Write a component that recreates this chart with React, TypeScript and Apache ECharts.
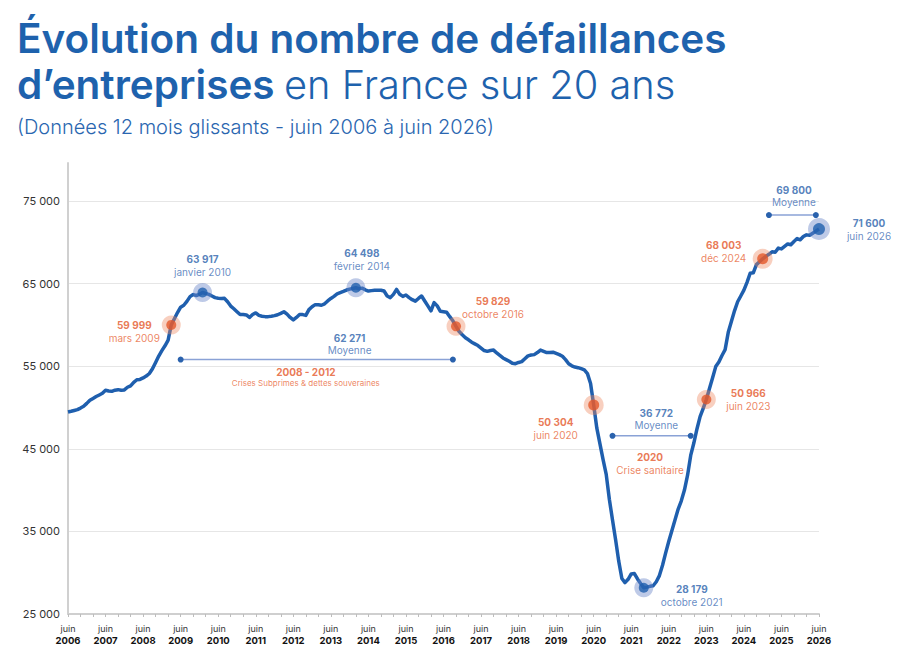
import React, { useEffect, useRef } from "react";
import * as echarts from "echarts";

// Mois (noms complets) utilisés pour construire l'axe mensuel
const MONTHS = [
  "janvier", "février", "mars", "avril", "mai", "juin",
  "juillet", "août", "septembre", "octobre", "novembre", "décembre",
];
const FIRST_YEAR = 2006;
const FIRST_MONTH = 5; // juin
const MONTH_COUNT = 241; // juin 2006 → juin 2026

// Défaillances d'entreprises, cumul sur 12 mois glissants (juin → mai)
const failures2006 = [49450, 49540, 49640, 49740, 49930, 50140, 50500, 50880, 51100, 51330, 51520, 51720];
const failures2007 = [52090, 52000, 51960, 52100, 52160, 52080, 52130, 52450, 52620, 53050, 53360, 53400];
const failures2008 = [53580, 53800, 54120, 54700, 55450, 56230, 56880, 57470, 58150, 59999, 60750, 61500];
const failures2009 = [62150, 62380, 62850, 63420, 63670, 63560, 63700, 63917, 63800, 63700, 63500, 63300];
const failures2010 = [63230, 63200, 63220, 62800, 62280, 61950, 61600, 61250, 61250, 61200, 60900, 61250];
const failures2011 = [61450, 61150, 61050, 61000, 61000, 61050, 61120, 61230, 61400, 61590, 61300, 60900];
const failures2012 = [60600, 60900, 61250, 61250, 61150, 61850, 62200, 62450, 62450, 62380, 62550, 62900];
const failures2013 = [63200, 63450, 63750, 63900, 64050, 64220, 64330, 64400, 64498, 64380, 64450, 64250];
const failures2014 = [64100, 64150, 64200, 64180, 64200, 64100, 63500, 63300, 63700, 64300, 63700, 63450];
const failures2015 = [63620, 63300, 63050, 62870, 63200, 63500, 62900, 62300, 61700, 62700, 62300, 61650];
const failures2016 = [61600, 61540, 61000, 60500, 59829, 59200, 58800, 58450, 58200, 57900, 57700, 57500];
const failures2017 = [57200, 56900, 56800, 56900, 56950, 56600, 56300, 56000, 55800, 55600, 55350, 55300];
const failures2018 = [55450, 55550, 55900, 56250, 56350, 56400, 56650, 56950, 56800, 56650, 56650, 56700];
const failures2019 = [56550, 56400, 56200, 55800, 55300, 55050, 54900, 54820, 54700, 54550, 54100, 52900];
const failures2020 = [50304, 47500, 45600, 43700, 41900, 38900, 36400, 34000, 31400, 29300, 28800, 29200];
const failures2021 = [29850, 29900, 29250, 28700, 28179, 28250, 28350, 28420, 28900, 29650, 30900, 32400];
const failures2022 = [33800, 35100, 36400, 37700, 38700, 40000, 41800, 44200, 45700, 47400, 48900, 49900];
const failures2023 = [50966, 52300, 53600, 54950, 55500, 56300, 57000, 59100, 60400, 61700, 62800, 63500];
const failures2024 = [64200, 65150, 66250, 66300, 67300, 67650, 68003, 68300, 68550, 68850, 68800, 69300];
const failures2025 = [69200, 69500, 69800, 69700, 70100, 70450, 70300, 70700, 70900, 70850, 71100, 71350];
const failures2026 = [71600];

// Points remarquables
const highlightKeys = ["2009-03", "2010-01", "2014-02", "2016-10", "2020-06", "2021-10", "2023-06", "2024-12", "2026-06"];
const highlightNames = ["mars 2009", "janvier 2010", "février 2014", "octobre 2016", "juin 2020", "octobre 2021", "juin 2023", "déc 2024", "juin 2026"];
const highlightTones = ["orange", "blue", "blue", "orange", "orange", "blue", "orange", "orange", "blue"];

// Moyennes par période
const averageValues = [62271, 36772, 69800];
const averageStarts = ["2009-06", "2020-12", "2025-02"];
const averageEnds = ["2016-09", "2023-01", "2026-05"];
const crisisTitles = ["2008 - 2012", "2020"];
const crisisNames = ["Crises Subprimes & dettes souveraines", "Crise sanitaire"];

// Mise en page des annotations (décalages en px, niveaux de tracé des accolades)
const highlightLabelOffsets = [[-37, 7], [0, -27], [6, -28], [37, -19], [-38, 24], [48, 8], [42, 0], [-39, -7], [50, 0]];
const highlightSizes = [[19, 10], [19, 10], [19, 10], [19, 10], [20, 11], [19, 10], [19, 10], [20, 11], [22, 12]];
const bracketLevels = [55800, 46575, 73300];
const averageLabelKeys = ["2013-12", "2022-02", "2025-10"];
const averageLabelDy = [-16, -17, -19];
const crisisLabelKeys = ["2012-10", "2021-12"];
const crisisLabelDy = [18, 28];

const BLUE = "#1f5fae";
const BLUE_TITLE = "#1e62ad";
const BLUE_TEXT = "#2b62ab";
const BLUE_SOFT = "#3f6fb6";
const ORANGE = "#e4582b";
const ORANGE_SOFT = "#e8673a";
const FONT = "Inter, 'Open Sans', sans-serif";

const failures = [
  ...failures2006, ...failures2007, ...failures2008, ...failures2009, ...failures2010,
  ...failures2011, ...failures2012, ...failures2013, ...failures2014, ...failures2015,
  ...failures2016, ...failures2017, ...failures2018, ...failures2019, ...failures2020,
  ...failures2021, ...failures2022, ...failures2023, ...failures2024, ...failures2025,
  ...failures2026,
];

const categories: string[] = [];
for (let i = 0; i < MONTH_COUNT; i++) {
  const t = FIRST_MONTH + i;
  const y = FIRST_YEAR + Math.floor(t / 12);
  const m = (t % 12) + 1;
  categories.push(`${y}-${String(m).padStart(2, "0")}`);
}

const fmt = (v: number) => {
  const k = Math.floor(v / 1000);
  const r = v % 1000;
  return k > 0 ? `${k} ${String(r).padStart(3, "0")}` : String(r);
};

export default function App() {
  const ref = useRef<HTMLDivElement>(null);

  useEffect(() => {
    if (!ref.current) return;
    const chart = echarts.init(ref.current, null, { renderer: "svg" });

    const highlightData = highlightKeys.map((key, i) => {
      const value = failures[categories.indexOf(key)];
      const tone = highlightTones[i];
      return { key, value, tone, name: highlightNames[i], offset: highlightLabelOffsets[i], size: highlightSizes[i] };
    });

    const haloSeries = {
      type: "scatter",
      z: 4,
      silent: true,
      data: highlightData.map((h) => ({
        value: [h.key, h.value],
        symbolSize: h.size[0],
        itemStyle: { color: h.tone === "orange" ? "rgba(238,134,96,0.5)" : "rgba(108,135,200,0.55)" },
      })),
    };

    const dotSeries = {
      type: "scatter",
      z: 5,
      silent: true,
      data: highlightData.map((h) => ({
        value: [h.key, h.value],
        symbolSize: h.size[1],
        itemStyle: { color: h.tone === "orange" ? ORANGE : BLUE },
        label: {
          show: true,
          position: "inside",
          offset: h.offset,
          align: "center",
          verticalAlign: "middle",
          formatter: `{v|${fmt(h.value)}}\n{d|${h.name}}`,
          rich: {
            v: {
              fontFamily: FONT, fontSize: 10, fontWeight: 700, lineHeight: 13,
              color: h.tone === "orange" ? ORANGE : BLUE_TEXT, align: "center",
            },
            d: {
              fontFamily: FONT, fontSize: 10, fontWeight: 400, lineHeight: 13,
              color: h.tone === "orange" ? ORANGE_SOFT : BLUE_SOFT, align: "center",
            },
          },
        },
      })),
    };

    const bracketSeries = averageValues.map((_, i) => ({
      type: "line",
      z: 3,
      silent: true,
      symbol: "circle",
      symbolSize: 6,
      showSymbol: true,
      showAllSymbol: true,
      lineStyle: { color: "#8aa2d6", width: 1.5 },
      itemStyle: { color: "#2a62ad" },
      data: [
        [averageStarts[i], bracketLevels[i]],
        [averageEnds[i], bracketLevels[i]],
      ],
    }));

    const textData: any[] = [];
    averageValues.forEach((v, i) => {
      textData.push({
        value: [averageLabelKeys[i], bracketLevels[i]],
        label: {
          show: true,
          position: "inside",
          offset: [0, averageLabelDy[i]],
          formatter: `{v|${fmt(v)}}\n{d|Moyenne}`,
          rich: {
            v: { fontFamily: FONT, fontSize: 10, fontWeight: 700, lineHeight: 12, color: BLUE_TEXT, align: "center" },
            d: { fontFamily: FONT, fontSize: 10, lineHeight: 12, color: BLUE_SOFT, align: "center" },
          },
        },
      });
    });
    crisisTitles.forEach((t, i) => {
      textData.push({
        value: [crisisLabelKeys[i], bracketLevels[i]],
        label: {
          show: true,
          position: "inside",
          offset: [0, crisisLabelDy[i]],
          formatter: `{v|${t}}\n{d|${crisisNames[i]}}`,
          rich: {
            v: { fontFamily: FONT, fontSize: 10, fontWeight: 700, lineHeight: i === 0 ? 11 : 13, color: ORANGE, align: "center" },
            d: { fontFamily: FONT, fontSize: i === 0 ? 8 : 10, lineHeight: i === 0 ? 11 : 13, color: ORANGE_SOFT, align: "center" },
          },
        },
      });
    });

    const textSeries = {
      type: "scatter",
      z: 6,
      symbolSize: 0,
      silent: true,
      data: textData,
    };

    chart.setOption({
      animation: false,
      backgroundColor: "#ffffff",
      textStyle: { fontFamily: FONT },
      graphic: [
        {
          type: "text",
          left: 17,
          top: 18,
          style: { text: "Évolution du nombre de défaillances", font: `600 40.5px ${FONT}`, fill: BLUE_TITLE },
        },
        {
          type: "group",
          left: 17,
          top: 64,
          children: [
            {
              type: "text",
              x: 0,
              y: 0,
              style: { text: "d’entreprises", font: `600 40.5px ${FONT}`, fill: BLUE_TITLE },
            },
            {
              type: "text",
              x: 267,
              y: 0.5,
              style: { text: "en France sur 20 ans", font: `300 39.8px ${FONT}`, fill: BLUE_TITLE },
            },
          ],
        },
        {
          type: "text",
          left: 17,
          top: 117,
          style: {
            text: "(Données 12 mois glissants - juin 2006 à juin 2026)",
            font: `300 20px ${FONT}`,
            fill: "#2a66b0",
          },
        },
      ],
      grid: { left: 68, right: 86, top: 163, bottom: 53, outerBoundsMode: "none" },
      xAxis: {
        type: "category",
        data: categories,
        boundaryGap: false,
        axisLine: { lineStyle: { color: "#cfcfcf", width: 2 } },
        axisTick: {
          show: true,
          interval: (i: number) => i % 4 === 0,
          length: 3,
          lineStyle: { color: "#bdbdbd" },
        },
        axisLabel: {
          interval: (i: number) => i % 12 === 0,
          margin: 8,
          formatter: (v: string) => {
            const [y, m] = v.split("-");
            return `{m|${MONTHS[Number(m) - 1]}}\n{y|${y}}`;
          },
          rich: {
            m: { fontFamily: FONT, fontSize: 9, color: "#333333", lineHeight: 12 },
            y: { fontFamily: FONT, fontSize: 9.5, fontWeight: 700, color: "#111111", lineHeight: 13 },
          },
        },
        splitLine: { show: false },
      },
      yAxis: {
        type: "value",
        min: 25000,
        max: 79600,
        interval: 10000,
        axisLine: { show: true, lineStyle: { color: "#d0d0d0", width: 2 } },
        axisTick: { show: false },
        axisLabel: {
          showMaxLabel: false,
          margin: 8,
          color: "#333333",
          fontSize: 11,
          fontFamily: FONT,
          formatter: (v: number) => fmt(v),
        },
        splitLine: { show: true, showMaxLine: false, lineStyle: { color: "#e6e6e6", width: 1 } },
      },
      series: [
        {
          type: "line",
          data: failures,
          z: 3,
          symbol: "none",
          silent: true,
          lineStyle: { color: BLUE, width: 3.5, join: "round" },
        },
        ...bracketSeries,
        haloSeries,
        dotSeries,
        textSeries,
      ],
    });

    return () => chart.dispose();
  }, []);

  return (
    <div
      ref={ref}
      style={{ position: "fixed", left: 0, top: 0, width: 905, height: 667, background: "#fff" }}
    />
  );
}
